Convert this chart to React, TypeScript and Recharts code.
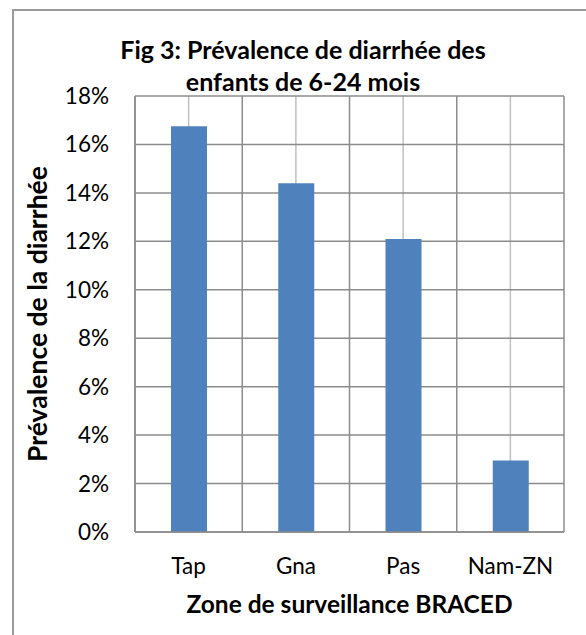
import { BarChart, Bar, XAxis, YAxis, CartesianGrid, Label } from 'recharts';

const zones = ['Tap', 'Gna', 'Pas', 'Nam-ZN'];
const prevalence = [16.75, 14.4, 12.1, 2.95];
const yTicks = [0, 2, 4, 6, 8, 10, 12, 14, 16, 18];
const titleLines = ['Fig 3: Prévalence de diarrhée des', 'enfants de 6-24 mois'];
const xTitle = 'Zone de surveillance BRACED';
const yTitle = 'Prévalence de la diarrhée';

const FONT = 'Lato, "Open Sans", sans-serif';

const chartData = zones.map((z, i) => ({ zone: z, value: prevalence[i] }));

const centerLines = ({ offset }: any) =>
  zones.map((_, i) => offset.left + (offset.width * (i + 0.5)) / zones.length);
const boundaryLines = ({ offset }: any) =>
  [0, 1, 2, 3, 4].map((i) => offset.left + (offset.width * i) / zones.length);

export default function App() {
  return (
    <div style={{ position: 'relative', width: 586, height: 635, background: '#fff', overflow: 'hidden', fontFamily: FONT }}>
      <style>{`body { margin: 0; }`}</style>
      <div
        style={{
          position: 'absolute',
          left: 12,
          top: 9,
          width: 700,
          height: 700,
          borderTop: '2px solid #9a9a9a',
          borderLeft: '2px solid #9a9a9a',
        }}
      />
      <div
        style={{
          position: 'absolute',
          left: 0,
          top: 0,
          width: 606,
          textAlign: 'center',
          fontWeight: 700,
          fontSize: 25,
          lineHeight: '32px',
          paddingTop: 33,
          color: '#000',
        }}
      >
        {titleLines.map((l) => (
          <div key={l}>{l}</div>
        ))}
      </div>
      <div style={{ position: 'absolute', left: 0, top: 0 }}>
        <BarChart width={586} height={635} data={chartData} margin={{ top: 96, right: 22, bottom: 0, left: 0 }} barSize={36}>
          <CartesianGrid horizontal={false} verticalCoordinatesGenerator={centerLines} stroke="#c0c0c0" strokeWidth={1.5} />
          <CartesianGrid verticalCoordinatesGenerator={boundaryLines} stroke="#8c8c8c" strokeWidth={1.5} />
          <XAxis
            dataKey="zone"
            height={103}
            tickLine={false}
            tickSize={0}
            tickMargin={26}
            axisLine={{ stroke: '#8c8c8c', strokeWidth: 1.5 }}
            tick={{ fill: '#000', fontSize: 22.5, fontFamily: FONT }}
          >
            <Label value={xTitle} position="insideBottom" offset={22} fill="#000" fontSize={24.5} fontWeight={700} fontFamily={FONT} />
          </XAxis>
          <YAxis
            width={135}
            domain={[0, 18]}
            ticks={yTicks}
            tickFormatter={(v) => `${v}%`}
            tickLine={false}
            tickSize={0}
            tickMargin={26}
            axisLine={{ stroke: '#8c8c8c', strokeWidth: 1.5 }}
            tick={{ fill: '#000', fontSize: 22.5, fontFamily: FONT }}
          >
            <Label
              content={({ viewBox }: any) => {
                const cy = viewBox.y + viewBox.height / 2;
                return (
                  <text
                    x={37}
                    y={cy}
                    transform={`rotate(-90 37 ${cy})`}
                    textAnchor="middle"
                    dominantBaseline="central"
                    fill="#000"
                    fontSize={26.5}
                    fontWeight={700}
                    fontFamily={FONT}
                  >
                    {yTitle}
                  </text>
                );
              }}
            />
          </YAxis>
          <Bar dataKey="value" fill="#4f81bd" isAnimationActive={false} />
        </BarChart>
      </div>
    </div>
  );
}
